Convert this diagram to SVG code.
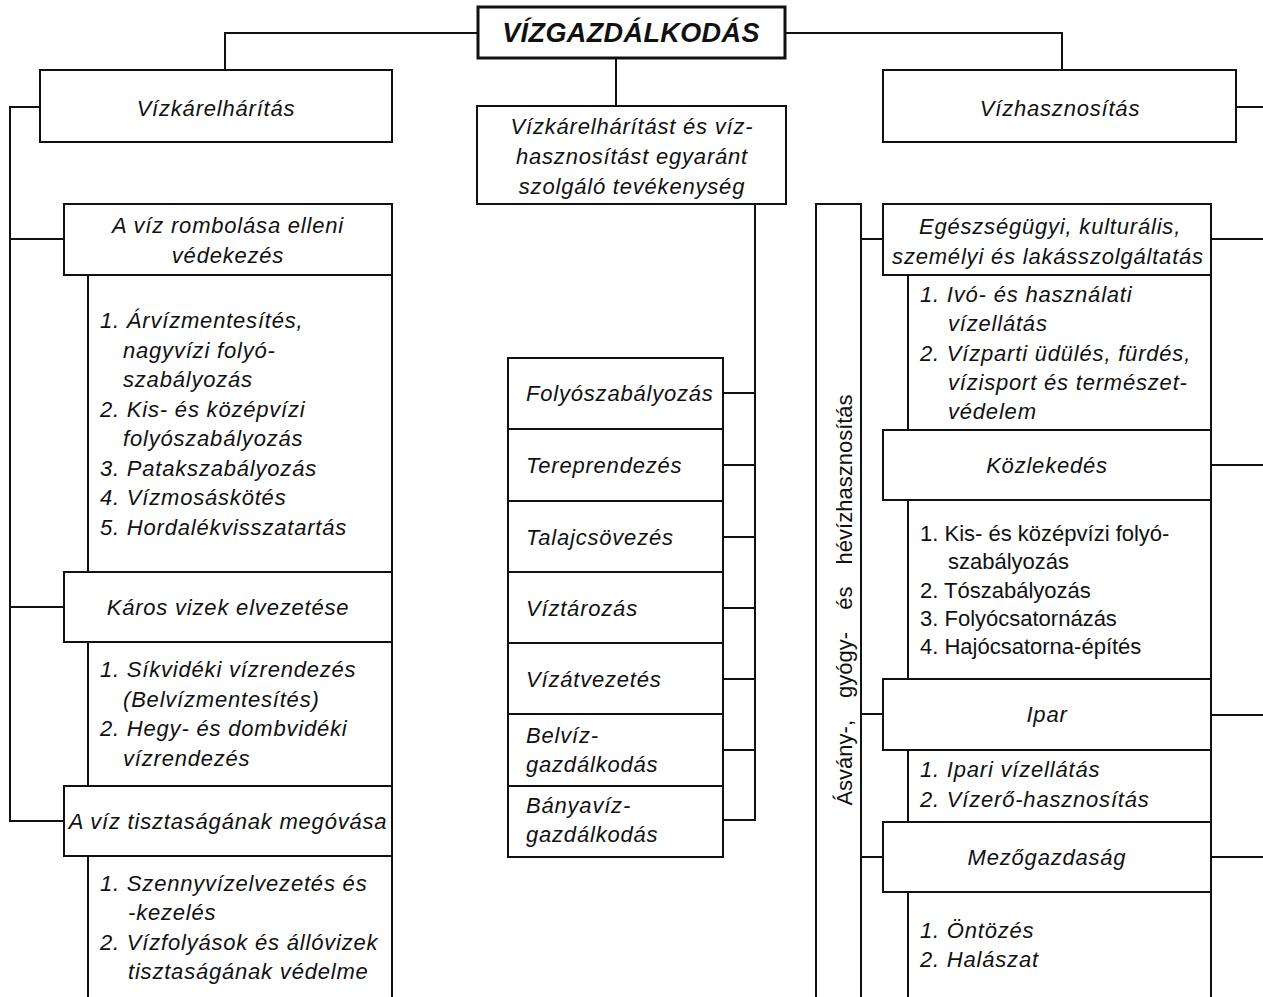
<svg xmlns="http://www.w3.org/2000/svg" width="1263" height="997" viewBox="0 0 1263 997">
<style>
.bx{fill:#fff;stroke:#111;stroke-width:2}
.ln{fill:none;stroke:#111;stroke-width:2}
.t{font-family:"Liberation Sans",Arial,sans-serif;font-size:22px;font-style:italic;fill:#111;letter-spacing:0.8px}
.u{font-family:"Liberation Sans",Arial,sans-serif;font-size:22px;fill:#111}
.c{text-anchor:middle}
.title{font-family:"Liberation Sans",Arial,sans-serif;font-size:27px;font-weight:bold;font-style:italic;fill:#111;text-anchor:middle;letter-spacing:0.4px}
</style>
<rect width="1263" height="997" fill="#fff"/>
<g id="connectors">
<path class="ln" d="M478,33 H225 V70"/>
<path class="ln" d="M785,33 H1062 V70"/>
<path class="ln" d="M616,58 V106"/>
<path class="ln" d="M40,107 H10 V821 H64 M10,239 H64 M10,607 H64"/>
<path class="ln" d="M755,204 V820 H723 M723,393 H755 M723,465 H755 M723,537 H755 M723,608 H755 M723,679 H755 M723,750 H755"/>
<path class="ln" d="M816,997 V204 H861 V997 M861,239 H883 M861,714 H883 M861,857 H883"/>
<path class="ln" d="M1236,107 H1263 M1211,239 H1263 M1211,465 H1263 M1211,715 H1263 M1211,857 H1263"/>
</g>
<g id="root">
<rect x="478" y="7" width="307" height="51" fill="#fff" stroke="#111" stroke-width="3"/>
<text class="title" x="631" y="42">VÍZGAZDÁLKODÁS</text>
</g>
<g id="vizkarelharitas">
<rect class="bx" x="40" y="70" width="352" height="72"/>
<text class="t c" x="216" y="116">Vízkárelhárítás</text>
</g>
<g id="kozos">
<rect class="bx" x="477" y="106" width="309" height="98"/>
<text class="t c" x="632" y="134">Vízkárelhárítást és víz-</text>
<text class="t c" x="632" y="164">hasznosítást egyaránt</text>
<text class="t c" x="632" y="194">szolgáló tevékenység</text>
</g>
<g id="vizhasznositas">
<rect class="bx" x="883" y="70" width="353" height="72"/>
<text class="t c" x="1060" y="116">Vízhasznosítás</text>
</g>
<g id="rombolas">
<path class="ln" d="M88,275 V572 M392,275 V572"/>
<rect class="bx" x="64" y="204" width="328" height="71"/>
<text class="t c" x="228" y="233">A víz rombolása elleni</text>
<text class="t c" x="228" y="263">védekezés</text>
<text class="t" x="100" y="328">1. Árvízmentesítés,</text>
<text class="t" x="123" y="357.5">nagyvízi folyó-</text>
<text class="t" x="123" y="387">szabályozás</text>
<text class="t" x="100" y="416.5">2. Kis- és középvízi</text>
<text class="t" x="123" y="446">folyószabályozás</text>
<text class="t" x="100" y="475.5">3. Patakszabályozás</text>
<text class="t" x="100" y="505">4. Vízmosáskötés</text>
<text class="t" x="100" y="534.5">5. Hordalékvisszatartás</text>
</g>
<g id="karos">
<path class="ln" d="M88,642 V786 M392,642 V786"/>
<rect class="bx" x="64" y="572" width="328" height="70"/>
<text class="t c" x="228" y="615">Káros vizek elvezetése</text>
<text class="t" x="100" y="677">1. Síkvidéki vízrendezés</text>
<text class="t" x="123" y="707">(Belvízmentesítés)</text>
<text class="t" x="100" y="736">2. Hegy- és dombvidéki</text>
<text class="t" x="123" y="766">vízrendezés</text>
</g>
<g id="tisztasag">
<path class="ln" d="M88,856 V997 M392,856 V997"/>
<rect class="bx" x="64" y="786" width="328" height="70"/>
<text class="t c" x="228" y="829">A víz tisztaságának megóvása</text>
<text class="t" x="100" y="891">1. Szennyvízelvezetés és</text>
<text class="t" x="128" y="920">-kezelés</text>
<text class="t" x="100" y="950">2. Vízfolyások és állóvizek</text>
<text class="t" x="128" y="979">tisztaságának védelme</text>
</g>
<g id="stack">
<rect class="bx" x="508" y="358" width="215" height="71"/>
<text class="t" x="526" y="401">Folyószabályozás</text>
<rect class="bx" x="508" y="429" width="215" height="72"/>
<text class="t" x="526" y="473">Tereprendezés</text>
<rect class="bx" x="508" y="501" width="215" height="71"/>
<text class="t" x="526" y="545">Talajcsövezés</text>
<rect class="bx" x="508" y="572" width="215" height="71"/>
<text class="t" x="526" y="616">Víztározás</text>
<rect class="bx" x="508" y="643" width="215" height="71"/>
<text class="t" x="526" y="687">Vízátvezetés</text>
<rect class="bx" x="508" y="714" width="215" height="72"/>
<text class="t" x="526" y="743">Belvíz-</text>
<text class="t" x="526" y="772">gazdálkodás</text>
<rect class="bx" x="508" y="786" width="215" height="71"/>
<text class="t" x="526" y="813">Bányavíz-</text>
<text class="t" x="526" y="842">gazdálkodás</text>
</g>
<g id="asvany">
<text class="u c" transform="translate(852,600) rotate(-90)" style="word-spacing:16px">Ásvány-, gyógy- és hévízhasznosítás</text>
</g>
<g id="egeszseg">
<path class="ln" d="M908,275 V430 M1211,275 V430"/>
<rect class="bx" x="883" y="204" width="328" height="71"/>
<text class="t c" x="1050" y="234">Egészségügyi, kulturális,</text>
<text class="t c" x="1048" y="264">személyi és lakásszolgáltatás</text>
<text class="t" x="920" y="302">1. Ivó- és használati</text>
<text class="t" x="948" y="331">vízellátás</text>
<text class="t" x="920" y="361">2. Vízparti üdülés, fürdés,</text>
<text class="t" x="948" y="390">vízisport és természet-</text>
<text class="t" x="948" y="419">védelem</text>
</g>
<g id="kozlekedes">
<path class="ln" d="M908,500 V679 M1211,500 V679"/>
<rect class="bx" x="883" y="430" width="328" height="70"/>
<text class="t c" x="1047" y="473">Közlekedés</text>
<text class="u" x="920" y="541">1. Kis- és középvízi folyó-</text>
<text class="u" x="948" y="569">szabályozás</text>
<text class="u" x="920" y="597.5">2. Tószabályozás</text>
<text class="u" x="920" y="626">3. Folyócsatornázás</text>
<text class="u" x="920" y="654">4. Hajócsatorna-építés</text>
</g>
<g id="ipar">
<path class="ln" d="M908,750 V822 M1211,750 V822"/>
<rect class="bx" x="883" y="679" width="328" height="71"/>
<text class="t c" x="1047" y="722">Ipar</text>
<text class="t" x="920" y="777">1. Ipari vízellátás</text>
<text class="t" x="920" y="807">2. Vízerő-hasznosítás</text>
</g>
<g id="mezogazdasag">
<path class="ln" d="M908,892 V997 M1211,892 V997"/>
<rect class="bx" x="883" y="822" width="328" height="70"/>
<text class="t c" x="1047" y="865">Mezőgazdaság</text>
<text class="t" x="920" y="938">1. Öntözés</text>
<text class="t" x="920" y="967">2. Halászat</text>
</g>
</svg>
